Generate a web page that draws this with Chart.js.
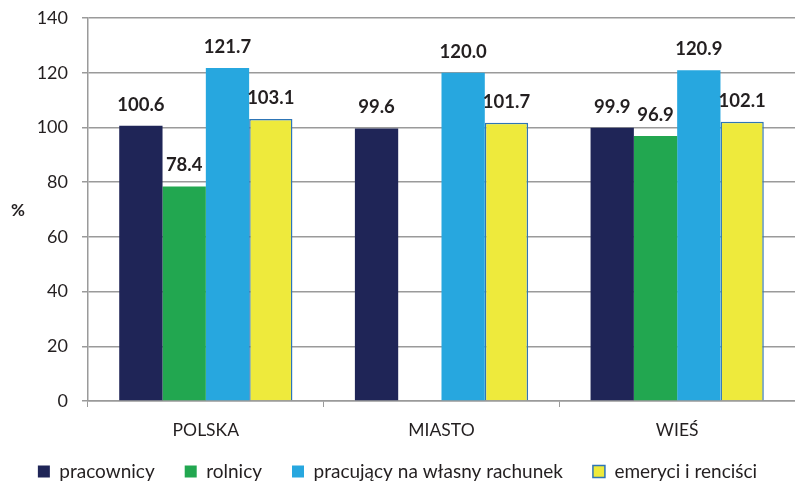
<!DOCTYPE html>
<html>
<head>
<meta charset="utf-8">
<script src="https://cdn.jsdelivr.net/npm/chart.js@4"></script>
<style>
  html, body { margin: 0; padding: 0; background: #fff; }
  #wrap { width: 795px; height: 482px; }
</style>
</head>
<body>
<div id="wrap"><canvas id="chart" width="795" height="482"></canvas></div>
<script>
const categories = ['POLSKA', 'MIASTO', 'WIEŚ'];
const pracownicy = [100.6, 99.6, 99.9];
const rolnicy = [78.4, null, 96.9];
const pracujacy = [121.7, 120.0, 120.9];
const emeryci = [103.1, 101.7, 102.1];
const yTicks = [0, 20, 40, 60, 80, 100, 120, 140];

const textColor = '#231f20';
const gridColor = '#9a9a9a';
const fontFamily = "Lato, 'Open Sans', sans-serif";

// value labels above bars, and the horizontal "%" title
const labelsPlugin = {
    id: 'barLabels',
    afterInit(chart) {
        // keep the legend row compact while leaving wide gaps between items
        const lg = chart.legend;
        const origFit = lg.fit.bind(lg);
        lg.fit = function() { origFit(); this.height = 34; };
        const origDraw = lg.draw.bind(lg);
        lg.draw = function() {
            const t = this.top;
            this.top = t - 16;
            origDraw();
            this.top = t;
        };
    },
    afterDatasetsDraw(chart) {
        const ctx = chart.ctx;
        ctx.save();
        ctx.fillStyle = textColor;
        ctx.font = 'bold 18.5px ' + fontFamily;
        ctx.textAlign = 'center';
        ctx.textBaseline = 'middle';
        chart.data.datasets.forEach((ds, i) => {
            const meta = chart.getDatasetMeta(i);
            meta.data.forEach((bar, j) => {
                const v = ds.data[j];
                if (v === null) return;
                ctx.fillText(v.toFixed(1), bar.x, bar.y - 21);
            });
        });
        ctx.font = 'bold 17px ' + fontFamily;
        ctx.fillText('%', 18, 211);
        ctx.restore();
    }
};

const ctx = document.getElementById('chart').getContext('2d');

new Chart(ctx, {
    type: 'bar',
    data: {
        labels: categories,
        datasets: [
            { label: 'pracownicy', data: pracownicy, backgroundColor: '#1f2557', borderWidth: 0 },
            { label: 'rolnicy', data: rolnicy, backgroundColor: '#22a750', borderWidth: 0 },
            { label: 'pracujący na własny rachunek', data: pracujacy, backgroundColor: '#27a7df', borderWidth: 0 },
            { label: 'emeryci i renciści', data: emeryci, backgroundColor: '#eeea3c', borderColor: '#2e75b6', borderWidth: 1.5 }
        ]
    },
    options: {
        responsive: false,
        animation: false,
        devicePixelRatio: 1,
        layout: { padding: { top: 18, right: 0, left: 0, bottom: 0 } },
        datasets: {
            bar: { categoryPercentage: 0.735, barPercentage: 1.0 }
        },
        plugins: {
            legend: {
                position: 'bottom',
                labels: {
                    boxWidth: 12,
                    boxHeight: 12,
                    padding: 30,
                    color: textColor,
                    font: { family: fontFamily, size: 19 }
                }
            },
            tooltip: { enabled: false }
        },
        scales: {
            x: {
                afterFit: function(scale) { scale.height = 47; },
                grid: {
                    offset: true,
                    drawOnChartArea: false,
                    drawTicks: true,
                    tickLength: 6,
                    color: gridColor
                },
                border: { display: true, color: gridColor, width: 1.5 },
                ticks: {
                    color: textColor,
                    padding: 13,
                    font: { family: fontFamily, size: 17.5 }
                }
            },
            y: {
                min: 0,
                max: 140,
                afterFit: function(scale) {
                    scale.width = 88;
                    scale.paddingTop = 0;
                    scale.paddingBottom = 0;
                },
                afterBuildTicks: function(scale) {
                    scale.ticks = yTicks.map(v => ({ value: v }));
                },
                grid: {
                    color: gridColor,
                    lineWidth: 1.5,
                    drawTicks: true,
                    tickLength: 6
                },
                border: { display: true, color: gridColor, width: 1.5 },
                ticks: {
                    color: textColor,
                    padding: 14,
                    font: { family: fontFamily, size: 18 }
                }
            }
        }
    },
    plugins: [labelsPlugin]
});
</script>
</body>
</html>
